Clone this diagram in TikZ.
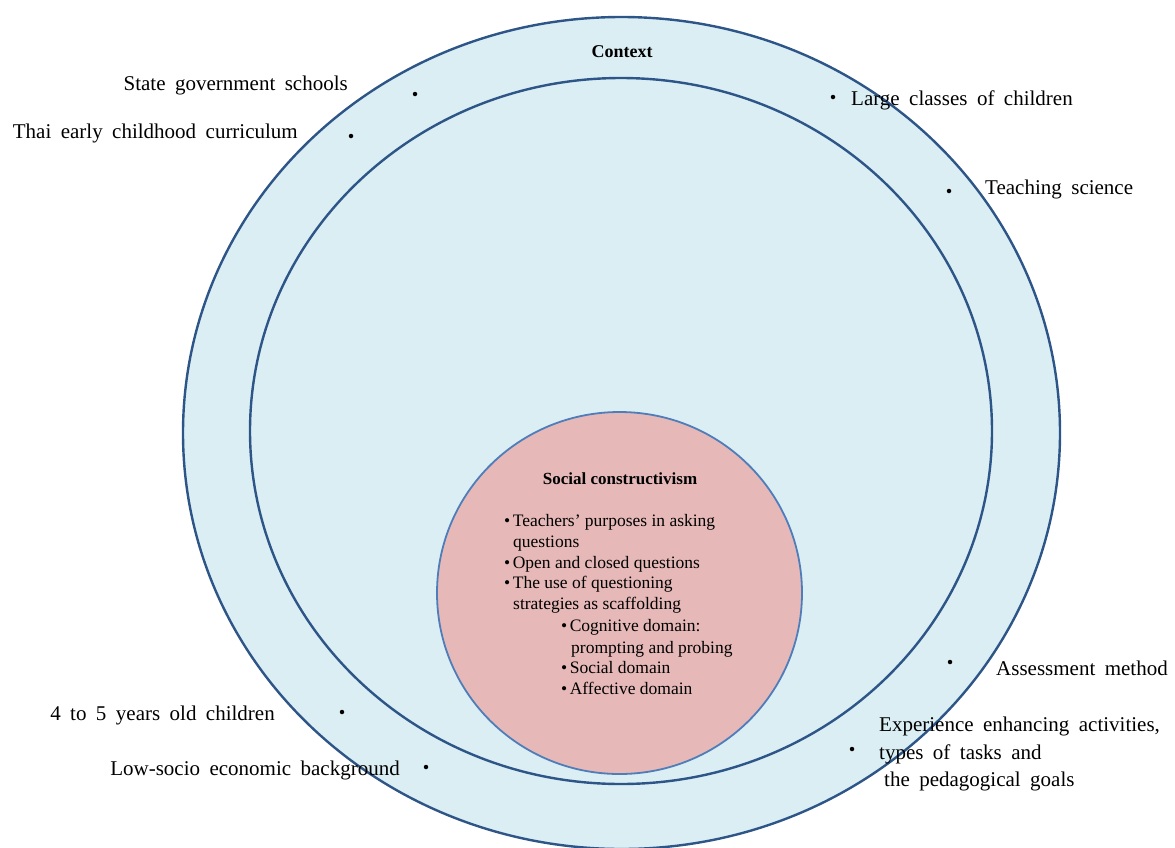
\documentclass[tikz,border=0pt]{standalone}
\usepackage{fontspec}
\setmainfont{Liberation Serif}
\usetikzlibrary{shapes.geometric}
\definecolor{ringfill}{HTML}{DAEEF3}
\definecolor{ringline}{HTML}{2E5587}
\definecolor{corefill}{HTML}{E6B9B8}
\definecolor{coreline}{HTML}{4F7DBA}
\newcommand{\bul}{\textbullet\hspace{2.5pt}}
\begin{document}
\begin{tikzpicture}[x=1pt,y=-1pt,
  ring/.style={ellipse, draw=ringline, line width=2.4pt, fill=ringfill, inner sep=0pt},
  lab/.style={font={\fontsize{21}{25}\selectfont\spaceskip=0.45em\relax}, inner sep=0pt},
  corelab/.style={font=\fontsize{17.5}{21}\selectfont, inner sep=0pt, anchor=base west},
  dotmark/.style={circle, fill=black, inner sep=0pt, minimum size=4.5pt}]
\useasboundingbox (0,0) rectangle (1175,847);
% rings
\node[ring, minimum width=877pt, minimum height=832pt] (outer) at (621.5,433) {};
\node[ring, minimum width=742pt, minimum height=706pt] (inner) at (621,431) {};
\node[ellipse, draw=coreline, line width=1.8pt, fill=corefill, inner sep=0pt,
      minimum width=365pt, minimum height=362pt] (core) at (619.5,593) {};
% context title
\node[font=\bfseries\fontsize{18}{22}\selectfont, inner sep=0pt, anchor=base] (context) at (622,57) {Context};
% outer labels
\node[lab, anchor=base east] (state) at (348,90) {State government schools};
\node[dotmark] (stated) at (415,94) {};
\node[lab, anchor=base east] (thai) at (298,138) {Thai early childhood curriculum};
\node[dotmark] (thaid) at (351,136) {};
\node[dotmark] (larged) at (833,97) {};
\node[lab, anchor=base west] (large) at (851,105) {Large classes of children};
\node[dotmark] (teachd) at (949,191) {};
\node[lab, anchor=base west] (teach) at (985,194) {Teaching science};
\node[dotmark] (assessd) at (950,662) {};
\node[lab, anchor=base west] (assess) at (996,675) {Assessment method};
\node[dotmark] (expd) at (852,749) {};
\node[lab, anchor=base west] (expa) at (879,731) {Experience enhancing activities,};
\node[lab, anchor=base west] (expb) at (879,759) {types of tasks and};
\node[lab, anchor=base west] (expc) at (884,786) {the pedagogical goals};
\node[lab, anchor=base east] (four) at (275,720) {4 to 5 years old children};
\node[dotmark] (fourd) at (342,712) {};
\node[lab, anchor=base east] (low) at (400,775) {Low-socio economic background};
\node[dotmark] (lowd) at (426,767) {};
% core text
\node[font=\bfseries\fontsize{17}{21}\selectfont, inner sep=0pt, anchor=base] (sc) at (620,484) {Social constructivism};
\node[corelab] (c1) at (504,526) {\bul Teachers’ purposes in asking};
\node[corelab] (c2) at (513,547) {questions};
\node[corelab] (c3) at (504,568) {\bul Open and closed questions};
\node[corelab] (c4) at (504,588) {\bul The use of questioning};
\node[corelab] (c5) at (513,609) {strategies as scaffolding};
\node[corelab] (c6) at (561,631) {\bul Cognitive domain:};
\node[corelab] (c7) at (571,653) {prompting and probing};
\node[corelab] (c8) at (561,673) {\bul Social domain};
\node[corelab] (c9) at (561,694) {\bul Affective domain};
\end{tikzpicture}
\end{document}
